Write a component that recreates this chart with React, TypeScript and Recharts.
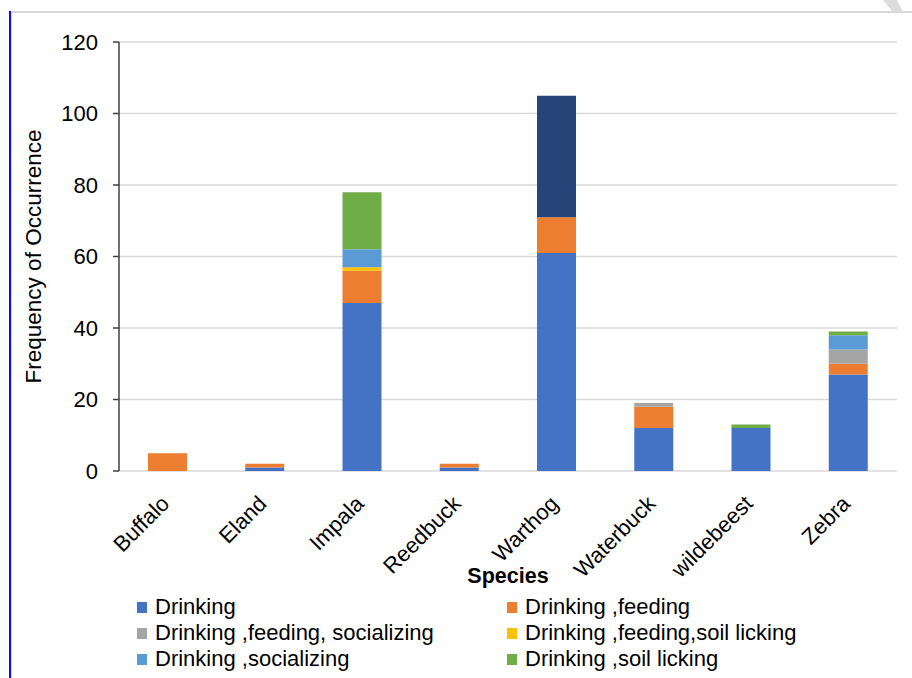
import React from 'react';
import { BarChart, Bar, XAxis, YAxis, CartesianGrid, Legend } from 'recharts';

const species = ['Buffalo', 'Eland', 'Impala', 'Reedbuck', 'Warthog', 'Waterbuck', 'wildebeest', 'Zebra'];
const drinking = [0, 1, 47, 1, 61, 12, 12, 27];
const drinkingFeeding = [5, 1, 9, 1, 10, 6, 0, 3];
const feedingSocializing = [0, 0, 0, 0, 0, 1, 0, 4];
const feedingSoilLicking = [0, 0, 1, 0, 0, 0, 0, 0];
const drinkingSocializing = [0, 0, 5, 0, 0, 0, 0, 4];
const drinkingSoilLicking = [0, 0, 16, 0, 0, 0, 1, 1];
const drinkingOther = [0, 0, 0, 0, 34, 0, 0, 0];

const yTicks = [0, 20, 40, 60, 80, 100, 120];
const edgeTicks = [0, 1, 2, 3, 4, 5, 6, 7, 8];

const series = [
  { key: 'drinking', name: 'Drinking', color: '#4472C4', values: drinking, legend: true },
  { key: 'feeding', name: 'Drinking ,feeding', color: '#ED7D31', values: drinkingFeeding, legend: true },
  { key: 'feedSocial', name: 'Drinking ,feeding, socializing', color: '#A5A5A5', values: feedingSocializing, legend: true },
  { key: 'feedSoil', name: 'Drinking ,feeding,soil licking', color: '#FFC000', values: feedingSoilLicking, legend: true },
  { key: 'social', name: 'Drinking ,socializing', color: '#5B9BD5', values: drinkingSocializing, legend: true },
  { key: 'soil', name: 'Drinking ,soil licking', color: '#70AD47', values: drinkingSoilLicking, legend: true },
  { key: 'other', name: 'Drinking ,other', color: '#264478', values: drinkingOther, legend: false },
];

const data = species.map((s, i) => {
  const row: Record<string, string | number> = { species: s };
  series.forEach((ser) => {
    row[ser.key] = ser.values[i];
  });
  return row;
});

const font = '"Liberation Sans", Arial, sans-serif';

const SpeciesTick = (props: any) => {
  const { x, y, payload } = props;
  return (
    <g transform={`translate(${x + 3},${y + 34})`}>
      <text x={0} y={0} textAnchor="end" transform="rotate(-45)" fontSize={22} fontFamily={font} fill="#000">
        {payload.value}
      </text>
    </g>
  );
};

const YTitle = (props: any) => {
  const vb = props.viewBox || { x: 0, y: 0, width: 0, height: 0 };
  const cx = vb.x + 41;
  const cy = vb.y + vb.height / 2;
  return (
    <text x={cx} y={cy} textAnchor="middle" transform={`rotate(-90,${cx},${cy})`} fontSize={22.5} fontFamily={font} fill="#000">
      Frequency of Occurrence
    </text>
  );
};

const LegendBox = () => (
  <div
    style={{
      display: 'grid',
      gridTemplateColumns: '370px 370px',
      rowGap: 4,
      fontFamily: font,
      fontSize: 22,
      color: '#000',
    }}
  >
    {series
      .filter((s) => s.legend)
      .map((s) => (
        <div key={s.key} style={{ display: 'flex', alignItems: 'center', height: 22 }}>
          <span style={{ display: 'inline-block', width: 10, height: 11, background: s.color, marginRight: 8 }} />
          <span>{s.name}</span>
        </div>
      ))}
  </div>
);

export default function App() {
  return (
    <div style={{ position: 'absolute', left: 0, top: 0, width: 912, height: 678, background: '#fff', overflow: 'hidden' }}>
      <div style={{ position: 'absolute', left: 10, top: 11, width: 902, height: 2, background: '#d6d6d6' }} />
      <div style={{ position: 'absolute', left: 9, top: 11, width: 2, height: 667, background: '#1010d0' }} />
      <div style={{ position: 'absolute', left: 11, top: 13, width: 1, height: 665, background: '#d8d8e8' }} />
      <div
        style={{
          position: 'absolute',
          left: 883,
          top: 0,
          width: 20,
          height: 12,
          background: '#dcdcdc',
          clipPath: 'polygon(0 0, 70% 0, 100% 100%, 50% 100%)',
        }}
      />
      <div style={{ position: 'absolute', left: 0, top: 0 }}>
        <BarChart width={912} height={678} data={data} margin={{ top: 42, right: 15, bottom: 0, left: 0 }} barSize={39}>
          <CartesianGrid xAxisId="edges" yAxisId="y" vertical={false} stroke="#D9D9D9" strokeWidth={1.5} />
          <XAxis
            xAxisId="edges"
            type="number"
            domain={[0, 8]}
            ticks={edgeTicks}
            allowDataOverflow
            height={0}
            tickSize={6}
            tickFormatter={() => ''}
            axisLine={{ stroke: '#404040', strokeWidth: 1.5 }}
            tickLine={{ stroke: '#404040', strokeWidth: 1.5 }}
          />
          <XAxis
            xAxisId="cat"
            dataKey="species"
            interval={0}
            height={207}
            axisLine={false}
            tickLine={false}
            tickSize={0}
            tickMargin={0}
            tick={<SpeciesTick />}
            label={{
              value: 'Species',
              position: 'insideTop',
              offset: 97,
              style: { fontFamily: font, fontSize: 21.5, fontWeight: 'bold', fill: '#000' },
            }}
          />
          <YAxis
            yAxisId="y"
            width={119}
            domain={[0, 120]}
            ticks={yTicks}
            tickSize={6}
            tickMargin={15}
            tick={{ fontFamily: font, fontSize: 22, fill: '#000' }}
            axisLine={{ stroke: '#404040', strokeWidth: 1.5 }}
            tickLine={{ stroke: '#404040', strokeWidth: 1.5 }}
            label={{ content: <YTitle /> }}
          />
          <Legend
            layout="horizontal"
            verticalAlign="middle"
            align="center"
            wrapperStyle={{ position: 'absolute', left: 137, top: 596, width: 760 }}
            content={<LegendBox />}
          />
          {series.map((s) => (
            <Bar
              key={s.key}
              xAxisId="cat"
              yAxisId="y"
              dataKey={s.key}
              name={s.name}
              stackId="a"
              fill={s.color}
              isAnimationActive={false}
            />
          ))}
        </BarChart>
      </div>
    </div>
  );
}
